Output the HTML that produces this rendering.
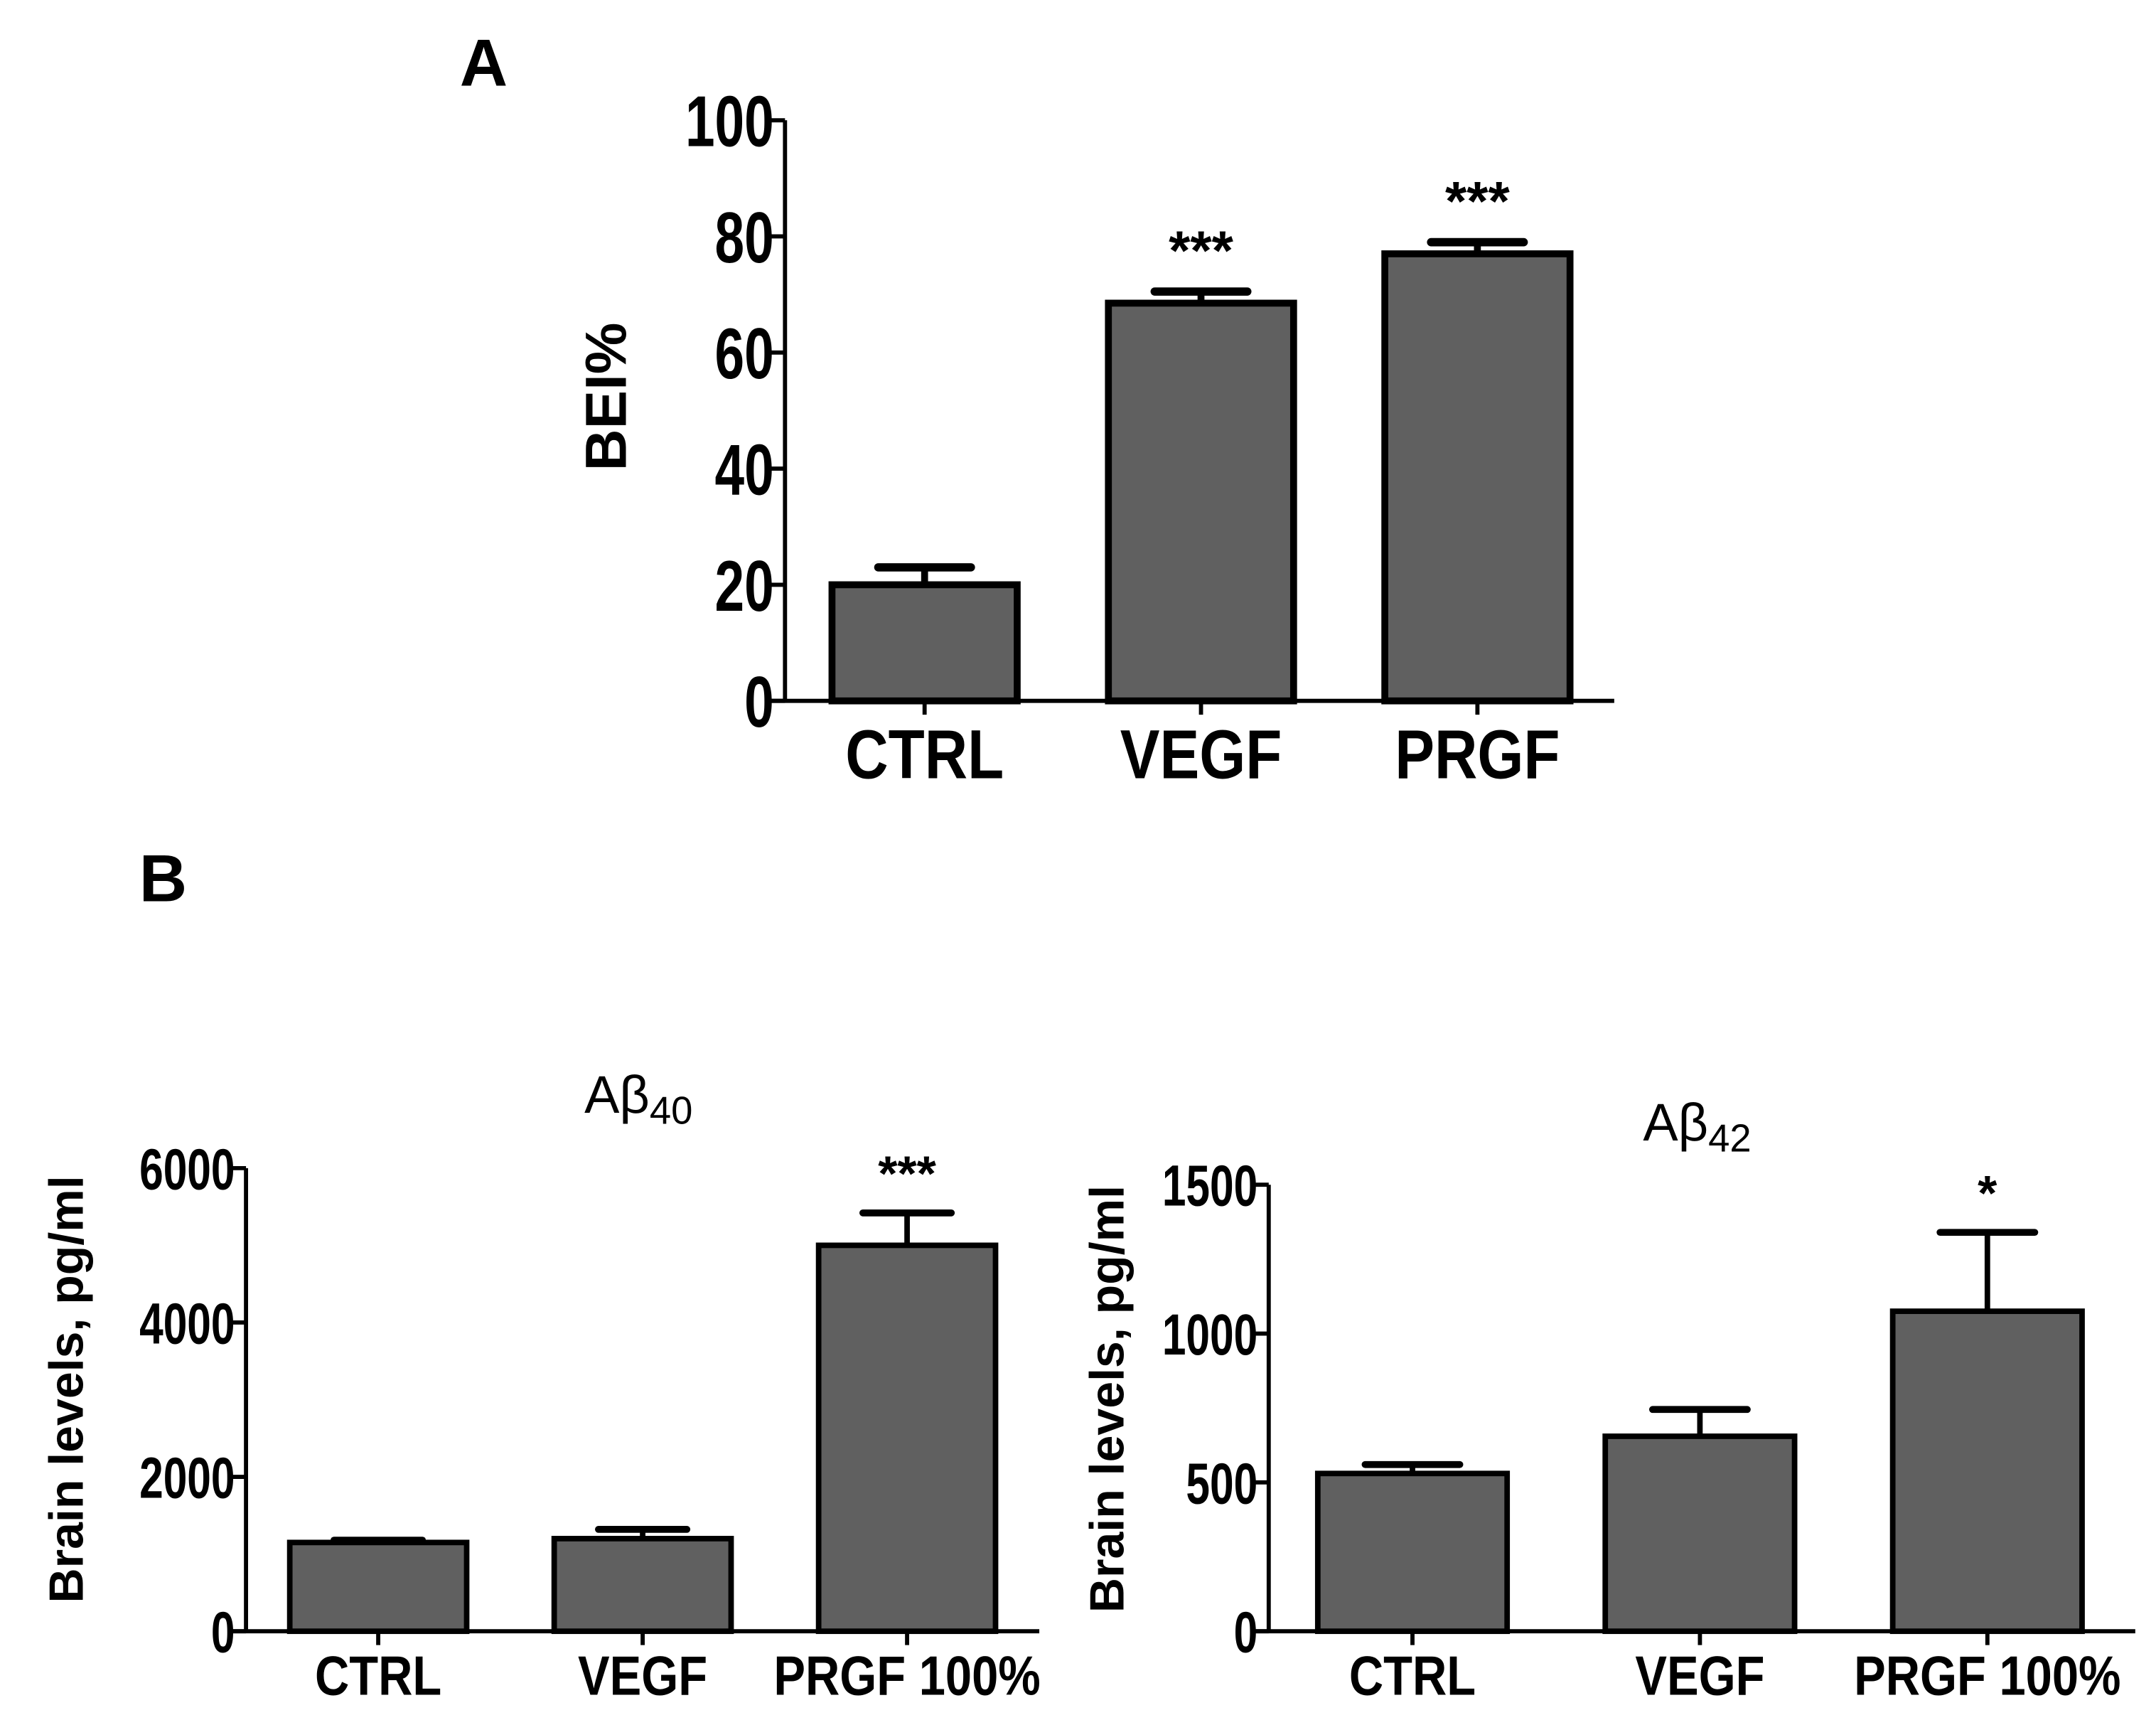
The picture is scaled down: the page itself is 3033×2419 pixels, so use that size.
<!DOCTYPE html>
<html><head><meta charset="utf-8"><style>
html,body{margin:0;padding:0;background:#fff;}
svg{display:block;}
text{font-family:"Liberation Sans",sans-serif;}
.n{font-family:"Liberation Sans Narrow","Liberation Sans",sans-serif;font-weight:bold;}
</style></head><body>
<svg id="fig" width="3033" height="2419" viewBox="0 0 1560 1244.2" preserveAspectRatio="none" xmlns="http://www.w3.org/2000/svg">
<text x="350" y="62" font-size="48" font-weight="bold" text-anchor="middle">A</text>
<text x="118" y="652" font-size="48" font-weight="bold" text-anchor="middle">B</text>
<g id="chartA"></g>
<g id="chartB1"></g>
<g id="chartB2"></g>
</svg>
<script>
const catsA = ["CTRL","VEGF","PRGF"];
const valsA = [20, 68.5, 77];
const errA = [23, 70.5, 79];
const starsA = ["", "***", "***"];
const ticksA = [0,20,40,60,80,100];

const catsB1 = ["CTRL","VEGF","PRGF 100%"];
const valsB1 = [1150, 1200, 5000];
const errB1 = [1180, 1320, 5420];
const starsB1 = ["", "", "***"];
const ticksB1 = [0,2000,4000,6000];

const catsB2 = ["CTRL","VEGF","PRGF 100%"];
const valsB2 = [530, 655, 1075];
const errB2 = [560, 745, 1340];
const starsB2 = ["", "", "*"];
const ticksB2 = [0,500,1000,1500];

const NS="http://www.w3.org/2000/svg";
function mk(parent, tag, attrs, txt){
  const e=document.createElementNS(NS,tag);
  for(const k in attrs) e.setAttribute(k,attrs[k]);
  if(txt!==undefined) e.textContent=txt;
  parent.appendChild(e); return e;
}
function draw(g, cfg, cats, vals, errs, stars, ticks){
  const y = v => cfg.y0 - (v - 0)/(cfg.max)*(cfg.y0 - cfg.yTop);
  const step = (cfg.xEnd - cfg.xStart)/cats.length;
  cats.forEach((c,i)=>{
    const cx = cfg.xStart + step*(i+0.5);
    const bw = cfg.bw;
    const eb = mk(g,'line',{x1:cx,x2:cx,y1:y(vals[i]),y2:y(errs[i]),stroke:'#000','stroke-width':cfg.sw});
    
    
    const cap = mk(g,'line',{x1:cx-bw*0.25,x2:cx+bw*0.25,y1:y(errs[i]),y2:y(errs[i]),stroke:'#000','stroke-width':cfg.sw+1,'stroke-linecap':'round'});
    
    
    const r = mk(g,'rect',{x:cx-bw/2,y:y(vals[i]),width:bw,height:cfg.y0-y(vals[i]),fill:'#606060',stroke:'#000','stroke-width':cfg.sw});
    
    
    if(stars[i]){
      const s = mk(g,'text',{x:cx,y:y(errs[i])-cfg.starGap,'font-size':cfg.starSize,'font-weight':'bold','text-anchor':'middle'},stars[i]);
      
      
    }
    const tk = mk(g,'line',{x1:cx,x2:cx,y1:cfg.y0,y2:cfg.y0+10,stroke:'#000','stroke-width':3});
    
    
    const lb = mk(g,'text',{x:0,y:0,transform:`translate(${cx},${cfg.y0+cfg.catDy}) scale(${cfg.catSx},1)`,'font-size':cfg.catSize,'font-weight':'bold','text-anchor':'middle'},c);
    
    
  });
  const ya = mk(g,'line',{x1:cfg.ax,x2:cfg.ax,y1:cfg.yTop,y2:cfg.y0,stroke:'#000','stroke-width':3});
  
  
  const xa = mk(g,'line',{x1:cfg.ax-12,x2:cfg.xAxEnd,y1:cfg.y0,y2:cfg.y0,stroke:'#000','stroke-width':3});
  
  
  ticks.forEach(t=>{
    const l = mk(g,'line',{x1:cfg.ax-10,x2:cfg.ax,y1:y(t),y2:y(t),stroke:'#000','stroke-width':3});
    
    
    const tx = mk(g,'text',{x:0,y:0,transform:`translate(${cfg.ax-8},${y(t)+cfg.tickSize*0.36}) scale(0.74,1)`,'font-size':cfg.tickSize,'text-anchor':'end','class':'n'},String(t));
    
    
  });
  const yl = mk(g,'text',{x:0,y:0,'font-size':cfg.ylSize,'font-weight':'bold','text-anchor':'middle',transform:`translate(${cfg.ylx},${cfg.yly}) rotate(-90)`},cfg.ylabel);
  
  
  if(cfg.title){
    const t = mk(g,'text',{x:cfg.tx,y:cfg.ty,'font-size':38,'text-anchor':'middle'});
    
    
    mk(t,'tspan',{},'Aβ');
    mk(t,'tspan',{'font-size':28,dy:8},cfg.title);
  }
}
draw(document.getElementById('chartA'),
 {y0:507,yTop:87,max:100,xStart:569,xEnd:1169,bw:134,ax:568,xAxEnd:1168,sw:5,starGap:16,starSize:40,catDy:56,catSize:50,catSx:0.86,tickSize:52,ylSize:42,ylx:453,yly:287,ylabel:'BEI%'},
 catsA,valsA,errA,starsA,ticksA);
draw(document.getElementById('chartB1'),
 {y0:1180,yTop:845,max:6000,xStart:178,xEnd:752,bw:128,ax:178,xAxEnd:752,sw:4,starGap:16,starSize:36,catDy:46,catSize:40,catSx:0.86,tickSize:42,ylSize:35,ylx:60,yly:1005,ylabel:'Brain levels, pg/ml',title:'40',tx:462,ty:805},
 catsB1,valsB1,errB1,starsB1,ticksB1);
draw(document.getElementById('chartB2'),
 {y0:1180,yTop:857,max:1500,xStart:918,xEnd:1542,bw:137,ax:918,xAxEnd:1545,sw:4,starGap:16,starSize:36,catDy:46,catSize:40,catSx:0.86,tickSize:42,ylSize:35,ylx:813,yly:1012,ylabel:'Brain levels, pg/ml',title:'42',tx:1228,ty:825},
 catsB2,valsB2,errB2,starsB2,ticksB2);
</script>
</body></html>
